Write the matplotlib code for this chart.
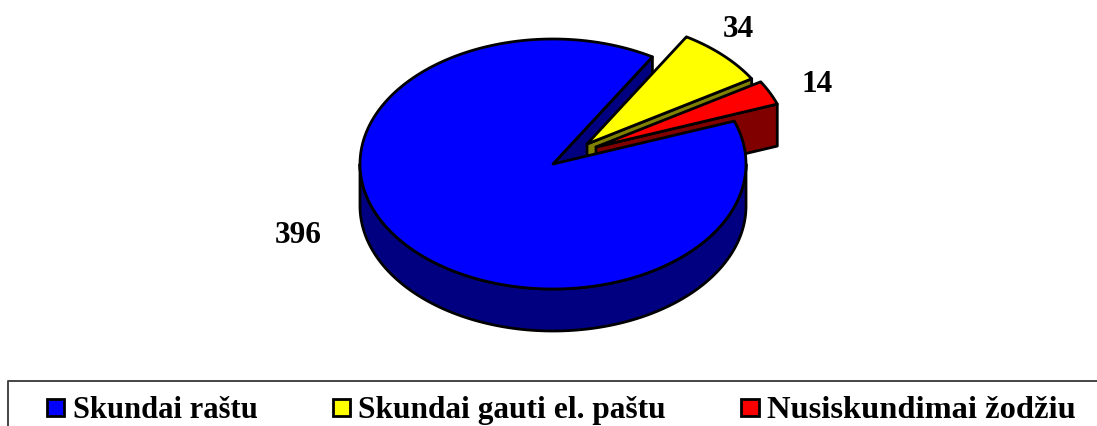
import numpy as np
import matplotlib
matplotlib.use('Agg')
import matplotlib.pyplot as plt
from matplotlib.patches import Polygon, Rectangle

# Chart data
labels = ['Skundai raštu', 'Skundai gauti el. paštu', 'Nusiskundimai žodžiu']
values = [396, 34, 14]
top_colors = ['#0000FF', '#FFFF00', '#FF0000']
side_colors = ['#000080', '#808000', '#800000']

# Pie geometry in pixels
cx, cy = 553, 165
rx, ry = 193, 125
depth = 42
start_angle = 59
offsets = [(0, 0), (34, -20), (43, -17)]

plt.rcParams['font.family'] = ['Liberation Serif', 'DejaVu Serif']
fig = plt.figure(figsize=(10.97, 4.27), dpi=100)
ax = fig.add_axes([0, 0, 1, 1])
ax.set_xlim(0, 1097)
ax.set_ylim(427, 0)
ax.axis('off')

lw = 2.0
sweeps = [v / sum(values) * 360 for v in values]


# Function to get points on the rim of a slice
def rim(a0, a1, ox=0, oy=0, dz=0):
    t = np.radians(np.linspace(a0, a1, 200))
    return np.column_stack([cx + ox + rx * np.cos(t), cy + oy + dz - ry * np.sin(t)])


def draw(points, color, z):
    ax.add_patch(Polygon(points, closed=True, facecolor=color, edgecolor='black',
                         linewidth=lw, joinstyle='round', zorder=z))


def cut_face(angle, ox, oy, color, z):
    a = np.radians(angle)
    p = (cx + ox, cy + oy)
    q = (cx + ox + rx * np.cos(a), cy + oy - ry * np.sin(a))
    draw([p, q, (q[0], q[1] + depth), (p[0], p[1] + depth)], color, z)


# The big slice runs counter-clockwise from the start angle
main_end = start_angle + sweeps[0]
yellow_end = start_angle - sweeps[1]
red_end = yellow_end - sweeps[2]

cut_face(start_angle, 0, 0, side_colors[0], 1)
cut_face(yellow_end, *offsets[1], side_colors[1], 2)
draw(np.vstack([[(cx + offsets[1][0], cy + offsets[1][1])],
                rim(yellow_end, start_angle, *offsets[1])]), top_colors[1], 3)
cut_face(red_end, *offsets[2], side_colors[2], 4)
draw(np.vstack([[(cx + offsets[2][0], cy + offsets[2][1])],
                rim(red_end, yellow_end, *offsets[2])]), top_colors[2], 5)

# Outer wall of the big slice, then its top
draw(np.vstack([rim(180, 360), rim(360, 180, dz=depth)]), side_colors[0], 6)
draw(np.vstack([[(cx, cy)], rim(start_angle, main_end)]), top_colors[0], 7)

# Value labels
label_pos = [(298, 243), (738, 37), (817, 92)]
for v, (x, y) in zip(values, label_pos):
    ax.text(x, y, str(v), fontsize=22.5, fontweight='bold', ha='center', va='baseline', zorder=8)

# Legend frame, open at the right and bottom
ax.plot([8, 8, 1097], [427, 381.5, 381.5], color='#444444', lw=1.4, zorder=8, clip_on=False)

marker_x = [46.5, 332.5, 741]
text_x = [73, 358, 767]
text_size = [22, 22.6, 23.4]
for i in range(3):
    ax.add_patch(Rectangle((marker_x[i], 399.5), 17.5, 17.5, facecolor=top_colors[i],
                           edgecolor='black', linewidth=2.0, zorder=8))
    ax.text(text_x[i], 418, labels[i], fontsize=text_size[i], fontweight='bold',
            ha='left', va='baseline', zorder=8)

plt.savefig('out.png', dpi=100)
